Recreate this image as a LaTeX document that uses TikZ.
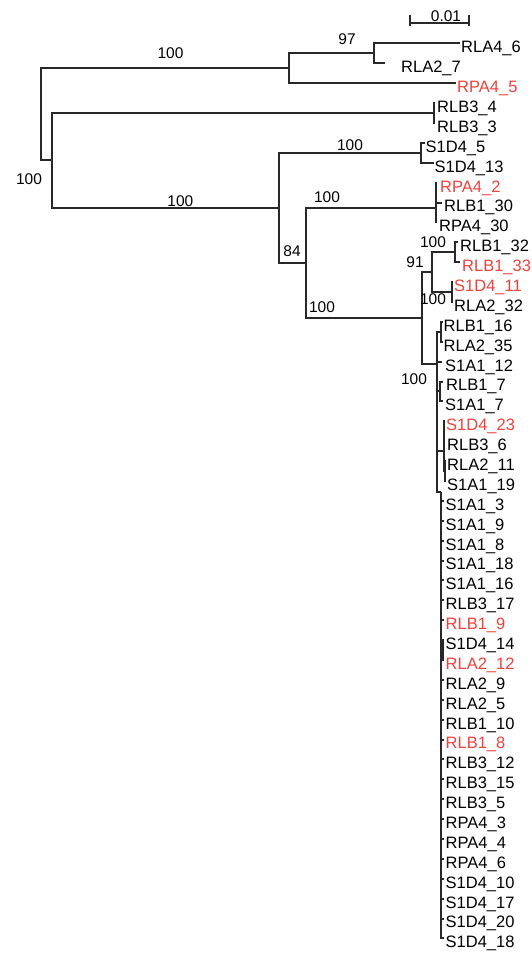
\documentclass[tikz,border=0pt]{standalone}
\usepackage{fontspec}
\setmainfont{Liberation Sans}
\usetikzlibrary{calc}
\definecolor{cladered}{RGB}{238,66,60}
\definecolor{branchgray}{RGB}{40,40,40}

\begin{document}
\begin{tikzpicture}[x=1pt,y=-1pt,
  branch/.style={draw=branchgray,line width=1.5pt},
  leaf/.style={anchor=base west,inner sep=0pt,font=\fontsize{16.5}{18}\selectfont},
  boot/.style={inner sep=0pt,font=\fontsize{15.5}{17}\selectfont}]
  \useasboundingbox (0,0) rectangle (531,956);
  \foreach \lab/\tip/\tx/\col [count=\i] in {
      RLA4\_6/460/461/black, RLA2\_7/385/401/black, RPA4\_5/456/457/cladered,
      RLB3\_4/435/437/black, RLB3\_3/435/437/black,
      S1D4\_5/425/425.5/black, S1D4\_13/434/434.5/black,
      RPA4\_2/437/440/cladered, RLB1\_30/442/444/black, RPA4\_30/437/439/black,
      RLB1\_32/458/460/black, RLB1\_33/460/462/cladered,
      S1D4\_11/453/454/cladered, RLA2\_32/453/454/black,
      RLB1\_16/443/443.5/black, RLA2\_35/443/443.5/black, S1A1\_12/442/445/black,
      RLB1\_7/443/446/black, S1A1\_7/443/445/black,
      S1D4\_23/445/446/cladered, RLB3\_6/445/447/black, RLA2\_11/446/447/black, S1A1\_19/446/447/black,
      S1A1\_3/444/445.5/black, S1A1\_9/444/445.5/black, S1A1\_8/444/445.5/black,
      S1A1\_18/444/445.5/black, S1A1\_16/444/445.5/black, RLB3\_17/444/445.5/black,
      RLB1\_9/444/445.5/cladered, S1D4\_14/444/445.5/black, RLA2\_12/444/445.5/cladered,
      RLA2\_9/444/445.5/black, RLA2\_5/444/445.5/black, RLB1\_10/444/445.5/black,
      RLB1\_8/444/445.5/cladered, RLB3\_12/444/445.5/black, RLB3\_15/444/445.5/black,
      RLB3\_5/444/445.5/black, RPA4\_3/444/445.5/black, RPA4\_4/444/445.5/black,
      RPA4\_6/444/445.5/black, S1D4\_10/444/445.5/black, S1D4\_17/444/445.5/black,
      S1D4\_20/444/445.5/black, S1D4\_18/444/445.5/black}{
    \coordinate (t\i) at (\tip,{round(43.4+19.89*(\i-1))});
    \node[leaf,text=\col] (l\i) at (\tx,{52.8+19.89*(\i-1)}) {\lab};
  }
  \coordinate (root) at (41,114);
  \coordinate (nA) at (289,68);
  \coordinate (nA1) at (374,53);
  \coordinate (nB) at (52,160);
  \coordinate (nRLB3) at (434,113);
  \coordinate (nC) at (279,208);
  \coordinate (nS1D4) at (421,153);
  \coordinate (nD) at (306,263);
  \coordinate (nRPA4) at (436,208);
  \coordinate (nE) at (422,318);
  \coordinate (nF) at (432,272);
  \coordinate (nG) at (455,252);
  \coordinate (nH) at (452,292);
  \coordinate (nI) at (437,364);
  \coordinate (nP) at (441,332);
  \coordinate (nQ) at (440,391);
  \coordinate (nK) at (444,451);
  \coordinate (nK2) at (445,471);
  \coordinate (nL) at (441,492);
  \coordinate (nS) at (443,650);
  \draw[branch] (root) |- (nA) (root) |- (nB)
    (nA) |- (nA1) (nA) |- (t3) (nA1) |- (t1) (nA1) |- (t2)
    (nB) |- (nRLB3) (nB) |- (nC) (nRLB3) |- (t4) (nRLB3) |- (t5)
    (nC) |- (nS1D4) (nC) |- (nD) (nS1D4) |- (t6) (nS1D4) |- (t7)
    (nD) |- (nRPA4) (nD) |- (nE)
    (nRPA4) |- (t8) (nRPA4) |- (t9) (nRPA4) |- (t10)
    (nE) |- (nF) (nE) |- (nI)
    (nF) |- (nG) (nF) |- (nH)
    (nG) |- (t11) (nG) |- (t12) (nH) |- (t13) (nH) |- (t14)
    (nI) |- (nP) (nI) |- (t17) (nI) |- (nQ) (nI) |- (nK) (nI) |- (nL)
    (nP) |- (t15) (nP) |- (t16) (nQ) |- (t18) (nQ) |- (t19)
    (nK) |- (t20) (nK) |- (t21) (nK) |- (nK2) (nK2) |- (t22) (nK2) |- (t23);
  \foreach \i in {24,...,46} \draw[branch] (nL) |- (t\i);
  \draw[branch] (nL) |- (nS) (nS) |- (t31) (nS) |- (t32);
  \node[boot] (b0) at (29,178.7) {100};
  \node[boot] (bA) at (170.5,52.8) {100};
  \node[boot] (bA1) at (347,39.5) {97};
  \node[boot] (bS1D4) at (350,145) {100};
  \node[boot] (bC) at (180.4,201) {100};
  \node[boot] (bRPA4) at (327,197) {100};
  \node[boot] (bD) at (292,251) {84};
  \node[boot] (bE) at (322,307) {100};
  \node[boot] (bF) at (415,262) {91};
  \node[boot] (bG) at (433,242) {100};
  \node[boot] (bH) at (433,299) {100};
  \node[boot] (bI) at (414,379) {100};
  \coordinate (sbl) at (410,23);
  \coordinate (sbr) at (469,23);
  \draw[branch] (sbl) -- (sbr)
    ($(sbl)+(0,-8)$) -- ($(sbl)+(0,3)$)
    ($(sbr)+(0,-8)$) -- ($(sbr)+(0,3)$);
  \node[boot] (scale) at (446,16.5) {0.01};
\end{tikzpicture}
\end{document}
